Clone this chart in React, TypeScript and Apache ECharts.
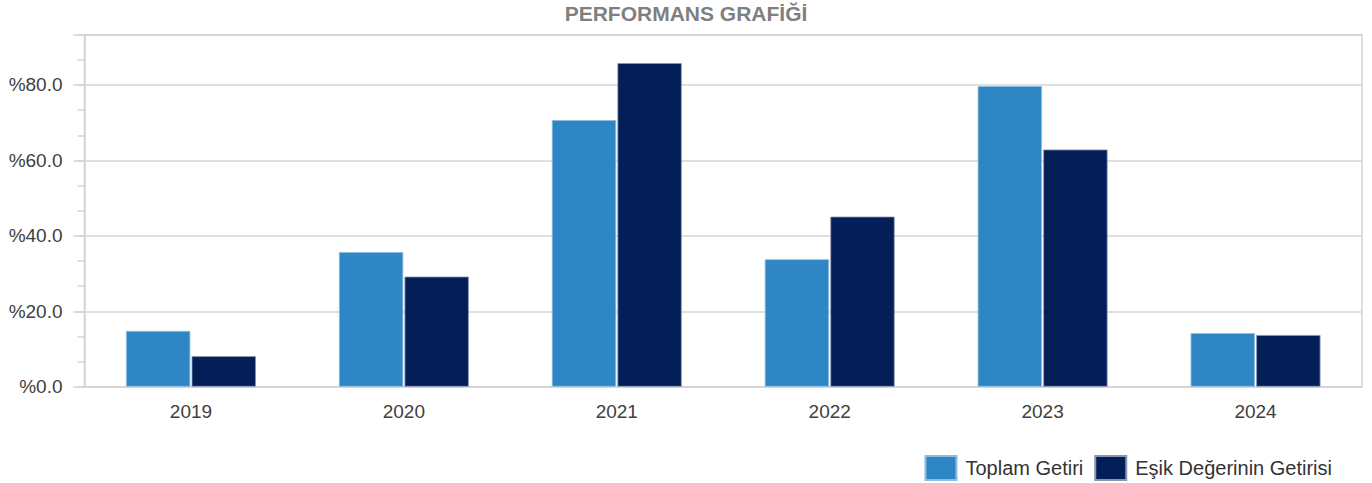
import React, { useEffect, useRef } from "react";
import * as echarts from "echarts";

const titleText = "PERFORMANS GRAFİĞİ";
const categories = ["2019", "2020", "2021", "2022", "2023", "2024"];
const seriesNames = ["Toplam Getiri", "Eşik Değerinin Getirisi"];
const toplamGetiri = [14.8, 35.7, 70.7, 33.8, 79.7, 14.2];
const esikGetiri = [8.1, 29.2, 85.8, 45.1, 62.9, 13.7];
const yMax = 280 / 3;
const yMinorStep = 20 / 3;
const yMajorStep = 20;

const FONT = "'Liberation Sans', Arial, sans-serif";
const GRID_COLOR = "#d4d4d4";

export default function App() {
  const ref = useRef<HTMLDivElement>(null);
  useEffect(() => {
    if (!ref.current) return;
    const chart = echarts.init(ref.current, null, { renderer: "svg" });
    chart.setOption({
      animation: false,
      backgroundColor: "#ffffff",
      title: {
        text: titleText,
        left: "center",
        top: 0,
        padding: [3, 5, 3, 0],
        textStyle: { fontFamily: FONT, fontSize: 21, fontWeight: "bold", color: "#7f7f7f" },
      },
      legend: {
        right: 40,
        top: 455,
        padding: 0,
        icon: "rect",
        itemWidth: 31,
        itemHeight: 24,
        itemGap: 11,
        textStyle: { fontFamily: FONT, fontSize: 20, color: "#333333", padding: [0, 0, 0, 4] },
        data: seriesNames,
      },
      grid: {
        left: 84.5,
        right: 10,
        top: 34.7,
        bottom: 96.3,
        show: true,
        borderColor: GRID_COLOR,
        borderWidth: 1.5,
      },
      xAxis: {
        type: "category",
        data: categories,
        axisLine: { lineStyle: { color: GRID_COLOR, width: 1.5 } },
        axisTick: { alignWithLabel: true, length: 7, lineStyle: { color: GRID_COLOR, width: 1.5 } },
        axisLabel: { fontFamily: FONT, fontSize: 19, color: "#404040", margin: 15 },
      },
      yAxis: [
        {
          type: "value",
          min: 0,
          max: yMax,
          interval: yMinorStep,
          position: "left",
          axisLine: { show: true, lineStyle: { color: GRID_COLOR, width: 1.5 } },
          axisTick: { show: true, length: 7, lineStyle: { color: GRID_COLOR, width: 1.5 } },
          axisLabel: {
            fontFamily: FONT,
            fontSize: 19,
            color: "#404040",
            margin: 22,
            formatter: (v: number) => {
              const r = v / yMajorStep;
              return Math.abs(r - Math.round(r)) < 1e-6 ? "%" + (Math.round(r) * yMajorStep).toFixed(1) : "";
            },
          },
          splitLine: { show: false },
        },
        {
          type: "value",
          min: 0,
          max: yMax,
          interval: yMajorStep,
          position: "left",
          axisLine: { show: false },
          axisTick: { show: true, length: 11, lineStyle: { color: GRID_COLOR, width: 1.5 } },
          axisLabel: { show: false },
          splitLine: { show: true, lineStyle: { color: GRID_COLOR, width: 1.5 } },
        },
      ],
      series: [
        {
          name: seriesNames[0],
          type: "bar",
          yAxisIndex: 0,
          data: toplamGetiri,
          barGap: "2%",
          barCategoryGap: "39%",
          itemStyle: { color: "#2e86c4", borderColor: "#8dbde3", borderWidth: 0.8 },
        },
        {
          name: seriesNames[1],
          type: "bar",
          yAxisIndex: 0,
          data: esikGetiri,
          barGap: "2%",
          barCategoryGap: "39%",
          itemStyle: { color: "#041e57", borderColor: "#8a96b0", borderWidth: 0.8 },
        },
      ],
    });
    return () => chart.dispose();
  }, []);
  return (
    <div
      ref={ref}
      style={{ position: "fixed", left: 0, top: 0, width: 1372, height: 483 }}
    />
  );
}
